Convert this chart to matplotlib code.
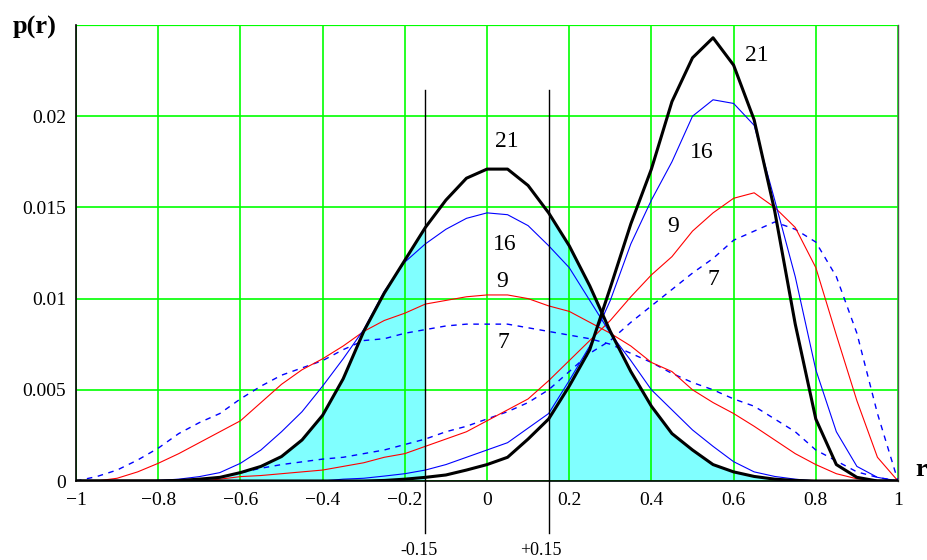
import numpy as np
import matplotlib
matplotlib.use("Agg")
import matplotlib.pyplot as plt

plt.rcParams["font.family"] = ["Liberation Serif", "DejaVu Serif"]
plt.rcParams["axes.unicode_minus"] = True

# r 축 (-1 ~ 1, 0.05 간격)
r = np.round(np.arange(-1.0, 1.0001, 0.05), 2)

# rho = 0 분포 (가운데 곡선들)
a21 = [0, 0, 0, 0, 0, 0.00003, 0.0001, 0.0002, 0.00046, 0.0008,
       0.00134, 0.00225, 0.0036, 0.0056, 0.0082, 0.0103, 0.0121, 0.0139, 0.0154, 0.0166,
       0.0171, 0.0171, 0.0162, 0.0147, 0.0129, 0.0107, 0.0082, 0.0060, 0.0041, 0.0026,
       0.0017, 0.0009, 0.0005, 0.00025, 0.0001, 0.00003, 0, 0, 0, 0, 0]
a16 = [0, 0, 0, 0, 0.00003, 0.0001, 0.00024, 0.00046, 0.00097, 0.0017,
       0.0027, 0.0038, 0.0052, 0.0067, 0.0083, 0.0104, 0.0120, 0.0130, 0.0138, 0.0144,
       0.0147, 0.0146, 0.0140, 0.0129, 0.0117, 0.0099, 0.0081, 0.0066, 0.0050, 0.0039,
       0.0028, 0.0019, 0.00106, 0.0005, 0.00025, 0.0001, 0, 0, 0, 0, 0]
a9 = [0, 0, 0.00015, 0.0005, 0.00097, 0.0015, 0.0021, 0.0027, 0.0033, 0.0043,
      0.0053, 0.0061, 0.0067, 0.0074, 0.0082, 0.0088, 0.0092, 0.0097, 0.0099, 0.0101,
      0.0102, 0.0102, 0.0100, 0.0096, 0.0093, 0.0087, 0.0081, 0.0074, 0.0065, 0.0060,
      0.0050, 0.0043, 0.0037, 0.0030, 0.00225, 0.0015, 0.0009, 0.0004, 0.00012, 0, 0]
a7 = [0, 0.00024, 0.0006, 0.00115, 0.0018, 0.0026, 0.0032, 0.0037, 0.0045, 0.0052,
      0.0058, 0.0062, 0.0066, 0.0072, 0.0077, 0.0078, 0.0081, 0.0083, 0.0085, 0.0086,
      0.0086, 0.0086, 0.0084, 0.0082, 0.0080, 0.0078, 0.0075, 0.0070, 0.0065, 0.0059,
      0.0054, 0.0050, 0.0045, 0.0041, 0.0034, 0.0027, 0.0017, 0.0011, 0.0005, 0.0002, 0]

# rho ~ 0.6 분포 (오른쪽 곡선들)
b21 = [0, 0, 0, 0, 0, 0, 0, 0, 0, 0,
       0, 0, 0, 0, 0, 0.00003, 0.0001, 0.0002, 0.00033, 0.0006,
       0.0009, 0.0013, 0.0023, 0.0034, 0.0052, 0.0072, 0.0106, 0.0141, 0.0171, 0.0208,
       0.0232, 0.0243, 0.0228, 0.0198, 0.0148, 0.0086, 0.0034, 0.0009, 0.0002, 0, 0]
b16 = [0, 0, 0, 0, 0, 0, 0, 0, 0, 0,
       0, 0, 0, 0.0001, 0.00015, 0.00027, 0.0004, 0.0006, 0.0009, 0.0013,
       0.0017, 0.0021, 0.0029, 0.0037, 0.0055, 0.0074, 0.0099, 0.0130, 0.0154, 0.0175,
       0.0200, 0.0209, 0.0207, 0.0195, 0.0154, 0.0112, 0.0061, 0.0027, 0.0008, 0.0002, 0]
b9 = [0, 0, 0, 0, 0, 0, 0, 0.0001, 0.00024, 0.0003,
      0.0004, 0.0005, 0.0006, 0.0008, 0.0010, 0.0013, 0.0015, 0.0019, 0.0023, 0.0027,
      0.0033, 0.0039, 0.0045, 0.0055, 0.0066, 0.0077, 0.0088, 0.0101, 0.0113, 0.0123,
      0.0137, 0.0147, 0.0155, 0.0158, 0.0150, 0.0139, 0.0117, 0.0080, 0.0044, 0.0013, 0]
b7 = [0, 0, 0, 0, 0, 0, 0.0001, 0.0002, 0.00045, 0.0007,
      0.0009, 0.00105, 0.0012, 0.0013, 0.0015, 0.0017, 0.0020, 0.0023, 0.0027, 0.0030,
      0.0034, 0.0038, 0.0043, 0.0050, 0.0060, 0.0070, 0.0077, 0.0087, 0.0096, 0.0105,
      0.0114, 0.0122, 0.0132, 0.0137, 0.0142, 0.0138, 0.0131, 0.0112, 0.0081, 0.0037, 0]

# 곡선 라벨 (표본 크기 n)
label_text = ["21", "16", "9", "7", "21", "16", "9", "7"]
label_r = [0.048, 0.044, 0.036, 0.040, 0.656, 0.522, 0.453, 0.551]
label_p = [0.01864, 0.01297, 0.01095, 0.00757, 0.02331, 0.0180, 0.01397, 0.01104]

cut_r = [-0.15, 0.15]
cut_text = ["-0.15", "+0.15"]

xticks = [-1, -0.8, -0.6, -0.4, -0.2, 0, 0.2, 0.4, 0.6, 0.8, 1]
xtick_labels = ["\u22121", "\u22120.8", "\u22120.6", "\u22120.4", "\u22120.2",
                "0", "0.2", "0.4", "0.6", "0.8", "1"]
yticks = [0, 0.005, 0.01, 0.015, 0.02]
ytick_labels = ["0", "0.005", "0.01", "0.015", "0.02"]

fig = plt.figure(figsize=(9.27, 5.6), dpi=100)
ax = fig.add_axes([76 / 927, 1 - 481 / 560, 822 / 927, 456 / 560])

a21 = np.array(a21)
# 양쪽 꼬리(|r| >= 0.15) 채우기
ax.fill_between(r, 0, a21, where=(r <= -0.15), color="#80ffff", lw=0, zorder=0.3)
ax.fill_between(r, 0, a21, where=(r >= 0.15), color="#80ffff", lw=0, zorder=0.3)

ax.plot(r, a7, color="#0000ff", lw=1.0, ls=(0, (4, 4)), zorder=2)
ax.plot(r, b7, color="#0000ff", lw=1.0, ls=(0, (4, 4)), zorder=2)
ax.plot(r, a9, color="#ff0000", lw=0.8, zorder=2)
ax.plot(r, b9, color="#ff0000", lw=0.8, zorder=2)
ax.plot(r, a16, color="#0000ff", lw=0.8, zorder=3)
ax.plot(r, b16, color="#0000ff", lw=0.8, zorder=3)
ax.plot(r, a21, color="black", lw=2.2, zorder=4)
ax.plot(r, b21, color="black", lw=2.2, zorder=4)

for t, x, y in zip(label_text, label_r, label_p):
    ax.text(x, y, t, fontsize=17, ha="center", va="center", zorder=5)

# ±0.15 기준선 (축 밖까지 연장)
for x, t in zip(cut_r, cut_text):
    ax.plot([x, x], [-0.00286, 0.02143], color="black", lw=1.0, clip_on=False, zorder=3)
ax.text(-0.165, -0.0038, cut_text[0], fontsize=13, ha="center", va="center", clip_on=False)
ax.text(0.13, -0.0038, cut_text[1], fontsize=13, ha="center", va="center", clip_on=False)

ax.set_xlim(-1, 1)
ax.set_ylim(0, 0.025)
ax.set_xticks(xticks)
ax.set_xticklabels(xtick_labels)
ax.set_yticks(yticks)
ax.set_yticklabels(ytick_labels)
ax.tick_params(length=0, labelsize=14, pad=7)
ax.tick_params(axis="x", pad=8)
ax.set_axisbelow(True)
ax.grid(True, color="#00ff00", lw=1.2)
ax.axhline(0.025, color="#00ff00", lw=1.6, zorder=0.6)

for s in ["left", "bottom"]:
    ax.spines[s].set_color("black")
    ax.spines[s].set_linewidth(1.2)
ax.spines["right"].set_color("#555555")
ax.spines["right"].set_linewidth(1.0)
ax.spines["top"].set_visible(False)

fig.text(35 / 927, 1 - 27 / 560, "p(r)", fontsize=19, fontweight="bold", ha="center", va="center")
fig.text(921 / 927, 1 - 470 / 560, "r", fontsize=19, fontweight="bold", ha="center", va="center")

fig.savefig("out.png", dpi=100)
